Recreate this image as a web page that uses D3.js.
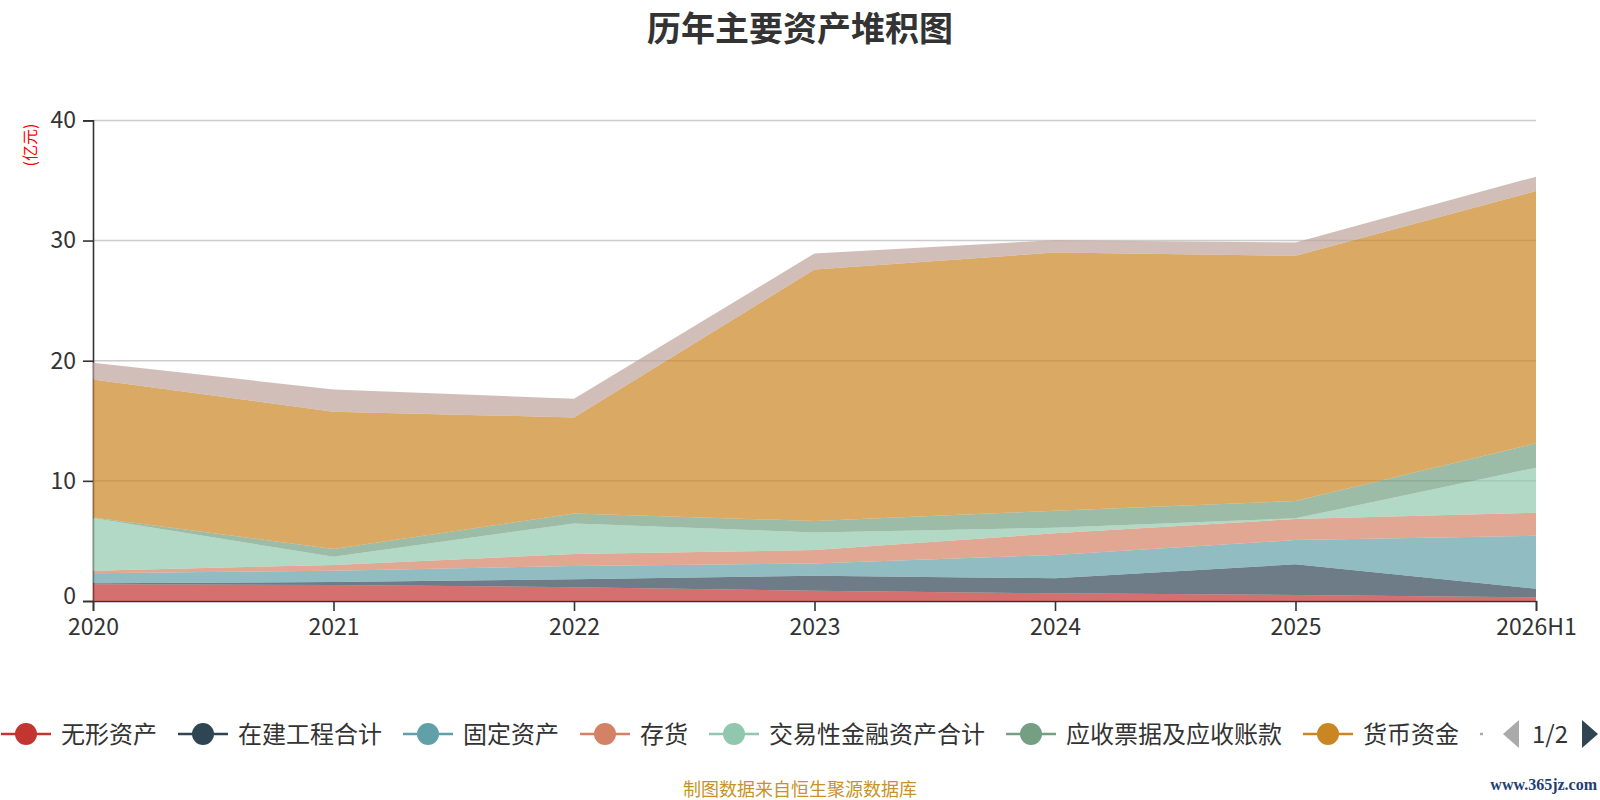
<!DOCTYPE html>
<html>
<head>
<meta charset="utf-8">
<script src="https://cdn.jsdelivr.net/npm/d3@7/dist/d3.min.js"></script>
<style>
html,body{margin:0;padding:0;background:#fff;}
svg{display:block;}
text{font-family:"Noto Sans CJK SC","Noto Sans",sans-serif;}
</style>
</head>
<body>
<svg id="chart" width="1600" height="800"></svg>
<script>
// ---- data ----
const categories = ["2020","2021","2022","2023","2024","2025","2026H1"];
const seriesNames = ["无形资产","在建工程合计","固定资产","存货","交易性金融资产合计","应收票据及应收账款","货币资金","其他"];
const seriesColors = ["#c23531","#2f4554","#61a0a8","#d48265","#91c7ae","#749f83","#ca8622","#bda29a"];
const intangible   = [1.39, 1.33, 1.15, 0.86, 0.64, 0.50, 0.31];
const construction = [0.08, 0.25, 0.65, 1.25, 1.25, 2.55, 0.71];
const fixedAssets  = [0.83, 0.94, 1.11, 1.02, 1.94, 2.02, 4.41];
const inventory    = [0.22, 0.48, 1.00, 1.11, 1.80, 1.75, 1.92];
const tradingFin   = [4.39, 0.69, 2.55, 1.47, 0.47, 0.06, 3.74];
const receivables  = [0.05, 0.64, 0.83, 0.95, 1.41, 1.44, 2.03];
const cash         = [11.48, 11.42, 7.99, 20.94, 21.49, 20.41, 21.00];
const other        = [1.38, 1.86, 1.55, 1.33, 1.03, 1.11, 1.20];
const yTicks = [0, 10, 20, 30, 40];
const seriesValues = [intangible, construction, fixedAssets, inventory, tradingFin, receivables, cash, other];

// ---- build ----
const svg = d3.select("#chart");
const rows = categories.map((c, i) => {
  const r = {cat: c};
  seriesNames.forEach((n, k) => r[n] = seriesValues[k][i]);
  return r;
});
const stack = d3.stack().keys(seriesNames)(rows);

const x = d3.scalePoint().domain(categories).range([93, 1536]);
const y = d3.scaleLinear().domain([0, 40]).range([601, 120.4]);

// grid
svg.append("g").selectAll("line").data(yTicks.filter(t => t > 0)).join("line")
  .attr("x1", 93).attr("x2", 1536)
  .attr("y1", d => y(d)).attr("y2", d => y(d))
  .attr("stroke", "#ccc").attr("stroke-width", 1.5);

// axes
const yAxis = svg.append("g").attr("transform", "translate(93,0)")
  .call(d3.axisLeft(y).tickValues(yTicks).tickSize(10).tickPadding(7));
const xAxis = svg.append("g").attr("transform", "translate(0,601)")
  .call(d3.axisBottom(x).tickSize(10).tickPadding(8));
[yAxis, xAxis].forEach(a => {
  a.select(".domain").attr("stroke", "#333").attr("stroke-width", 1.6);
  a.selectAll(".tick line").attr("stroke", "#333").attr("stroke-width", 1.6);
  a.selectAll(".tick text").attr("fill", "#333").style("font-size", "23px")
    .style("font-family", "'Noto Sans CJK SC',sans-serif");
});
// keep the "0" label clear of the "2020" label below it
yAxis.selectAll(".tick text").filter(d => d === 0).attr("dy", "0.1em");

// areas
const area = d3.area().x(d => x(d.data.cat)).y0(d => y(d[0])).y1(d => y(d[1]));
svg.append("g").selectAll("path").data(stack).join("path")
  .attr("d", area)
  .attr("fill", (d, i) => seriesColors[i])
  .attr("fill-opacity", 0.7);

// title
svg.append("text").attr("x", 800).attr("y", 41).attr("text-anchor", "middle")
  .attr("fill", "#333").style("font-size", "34px").style("font-weight", "bold")
  .text("历年主要资产堆积图");

// y axis name
svg.append("text").attr("transform", "translate(36,145) rotate(-90)")
  .attr("text-anchor", "middle").attr("fill", "#ff0000").style("font-size", "16px")
  .text("(亿元)");

// legend
const lg = svg.append("g");
let cx = 26;
const legendY = 734;
for (let i = 0; i < 7; i++) {
  const g = lg.append("g");
  g.append("line").attr("x1", cx - 25).attr("x2", cx + 25).attr("y1", legendY).attr("y2", legendY)
    .attr("stroke", seriesColors[i]).attr("stroke-width", 2.5);
  g.append("circle").attr("cx", cx).attr("cy", legendY).attr("r", 11).attr("fill", seriesColors[i]);
  const t = g.append("text").attr("x", cx + 35).attr("y", legendY + 8.5)
    .attr("fill", "#333").style("font-size", "24px").text(seriesNames[i]);
  const w = t.node().getComputedTextLength();
  cx = cx + 35 + w + 46;
}
// clipped start of next legend item
lg.append("line").attr("x1", 1480).attr("x2", 1483).attr("y1", legendY).attr("y2", legendY)
  .attr("stroke", seriesColors[7]).attr("stroke-width", 2.5);
// pager
lg.append("path").attr("d", "M1519,720 L1503,734 L1519,748 Z").attr("fill", "#aaa");
lg.append("text").attr("x", 1550).attr("y", legendY + 8.5).attr("text-anchor", "middle")
  .attr("fill", "#333").style("font-size", "24px").text("1/2");
lg.append("path").attr("d", "M1582,720 L1598,734 L1582,748 Z").attr("fill", "#2f4554");

// footnote
svg.append("text").attr("x", 800).attr("y", 796).attr("text-anchor", "middle")
  .attr("fill", "#c8922a").style("font-size", "18px").text("制图数据来自恒生聚源数据库");
svg.append("text").attr("x", 1597).attr("y", 790).attr("text-anchor", "end")
  .attr("fill", "#1f3f73").style("font-size", "16px").style("font-family", "'Liberation Serif',serif")
  .style("font-weight", "bold")
  .text("www.365jz.com");
</script>
</body>
</html>
